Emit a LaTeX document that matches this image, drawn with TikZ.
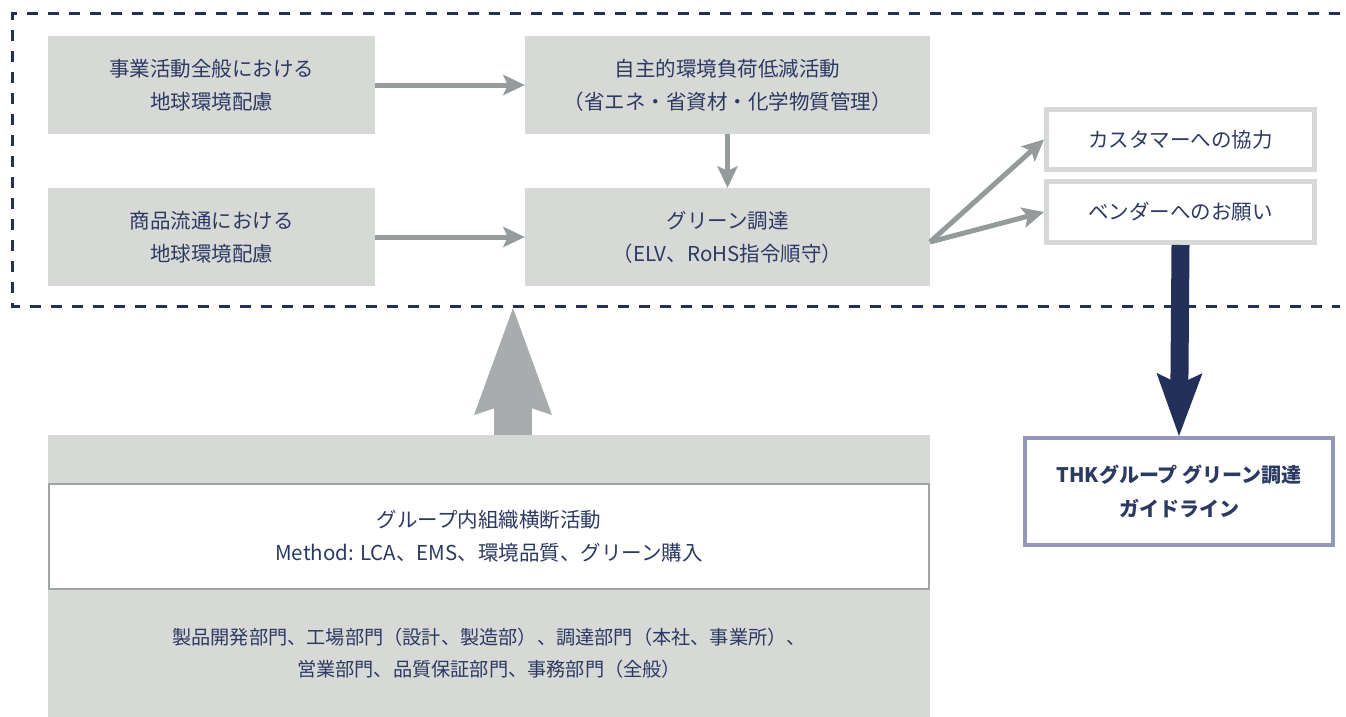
\documentclass[tikz,border=0pt]{standalone}
\usepackage{fontspec}
\setmainfont{Noto Sans CJK JP}
\usetikzlibrary{arrows.meta}
\definecolor{boxgray}{HTML}{D7D9D6}
\definecolor{arrgray}{HTML}{959A9B}
\definecolor{upgray}{HTML}{A8ACAD}
\definecolor{navy}{HTML}{22305A}
\definecolor{txt}{HTML}{2C3A62}
\definecolor{thkborder}{HTML}{9398B6}
\definecolor{innerborder}{HTML}{A0A4A4}
\begin{document}
\begin{tikzpicture}[x=1pt,y=-1pt,
  every node/.style={text=txt, align=center, inner sep=0pt},
  basefont/.style={font=\fontsize{20.5}{33}\selectfont},
  graybox/.style={basefont, fill=boxgray, minimum height=98pt},
  outlinebox/.style={basefont, fill=white, draw=boxgray, line width=5pt, minimum width=268pt},
  thinarrow/.style={draw=arrgray, line width=5pt, -{Stealth[length=22pt,width=21pt,inset=5pt,line width=0pt]}},
  frameline/.style={draw=navy, line width=3pt, dash pattern=on 11pt off 10pt}
]
\useasboundingbox (0,0) rectangle (1346,717);

% top boxes
\node[graybox, minimum width=327pt] (A) at (211.5,85) {事業活動全般における\\地球環境配慮};
\node[graybox, minimum width=327pt] (B) at (211.5,237) {商品流通における\\地球環境配慮};
\node[graybox, minimum width=405pt] (C) at (727.5,85) {自主的環境負荷低減活動\\（省エネ・省資材・化学物質管理）};
\node[graybox, minimum width=405pt] (D) at (727.5,237) {グリーン調達\\（ELV、RoHS指令順守）};

\node[outlinebox, minimum height=60pt] (cust) at (1180.5,139.5) {カスタマーへの協力};
\node[outlinebox, minimum height=61pt] (vend) at (1180.5,212) {ベンダーへのお願い};

\node[font=\fontsize{20}{34}\selectfont\bfseries, fill=white, draw=thkborder, line width=4pt,
      minimum width=308pt, minimum height=107pt] (thk) at (1179,491.5) {THKグループ グリーン調達\\ガイドライン};

% bottom block
\node[fill=boxgray, minimum width=882pt, minimum height=282pt] (org) at (489,576) {};
\node[basefont, fill=white, draw=innerborder, line width=2pt, minimum width=880pt, minimum height=105pt] (cross) at (489,536.5)
  {グループ内組織横断活動\\Method: LCA、EMS、環境品質、グリーン購入};
\node[font=\fontsize{19.2}{32}\selectfont] (depts) at (489,653)
  {製品開発部門、工場部門（設計、製造部）、調達部門（本社、事業所）、\\営業部門、品質保証部門、事務部門（全般）};

% dashed frame
\draw[frameline] (1340,14) -- (12,14) -- (12,306.5) -- (1340,306.5);

% connectors
\coordinate (fan) at (930,242);
\coordinate (uptip) at (513,308);
\draw[thinarrow] (A.east) -- (C.west);
\draw[thinarrow] (B.east) -- (D.west);
\draw[thinarrow] (C.south) -- (D.north);
\draw[thinarrow] (fan) -- (cust.west);
\draw[thinarrow] (fan) -- (vend.west);

\draw[draw=navy, line width=18pt, -{Stealth[length=63pt,width=46pt,inset=11pt,line width=0pt]}] (vend.south) -- (thk.north);
\draw[draw=upgray, line width=38pt, -{Stealth[length=107pt,width=78pt,inset=13pt,line width=0pt]}] (org.north -| uptip) -- (uptip);
\end{tikzpicture}
\end{document}
